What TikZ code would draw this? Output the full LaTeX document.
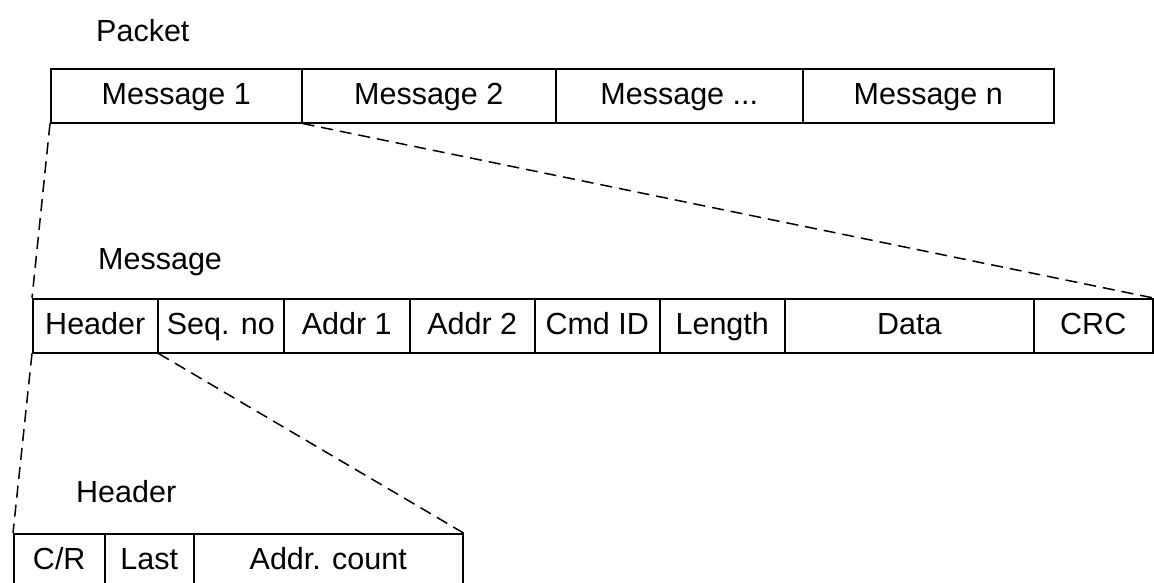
\documentclass[tikz,border=0pt]{standalone}
\usepackage{fontspec}
\setmainfont{Liberation Sans}
\begin{document}
\begin{tikzpicture}[x=1pt,y=-1pt,
  cell/.style={draw,line width=1.5pt,rectangle,anchor=north west,inner sep=0pt,
    minimum height=54pt,text height=21pt,text depth=3pt,font=\fontsize{30.5}{36}\selectfont},
  lbl/.style={anchor=west,inner sep=0pt,font=\fontsize{30.5}{36}\selectfont},
  zoomline/.style={line width=1.5pt,dash pattern=on 12pt off 7pt}]
\useasboundingbox (0,0) rectangle (1154,582);
% labels
\node[lbl] (tp) at (96,31) {Packet};
\node[lbl] (tm) at (98,262) {Message};
\node[lbl] (th) at (76,492) {Header};
% packet row
\node[cell,minimum width=251pt] (p1) at (50,68) {Message 1};
\node[cell,minimum width=254pt] (p2) at (301,68) {Message 2};
\node[cell,minimum width=247pt] (p3) at (555,68) {Message ...};
\node[cell,minimum width=251pt] (p4) at (802,68) {Message n};
% message row
\node[cell,minimum width=125pt] (m1) at (32,298) {Header};
\node[cell,minimum width=126pt] (m2) at (157,298) {Seq. no};
\node[cell,minimum width=126pt] (m3) at (283,298) {Addr 1};
\node[cell,minimum width=125pt] (m4) at (409,298) {Addr 2};
\node[cell,minimum width=125pt] (m5) at (534,298) {Cmd ID};
\node[cell,minimum width=125pt] (m6) at (659,298) {Length};
\node[cell,minimum width=249pt] (m7) at (784,298) {Data};
\node[cell,minimum width=119pt] (m8) at (1033,298) {CRC};
% header row
\node[cell,minimum width=91pt] (h1) at (13,533) {C/R};
\node[cell,minimum width=89pt] (h2) at (104,533) {Last};
\node[cell,minimum width=269pt] (h3) at (193,533) {Addr. count};
% zoom lines
\draw[zoomline] (p1.south west) -- (m1.north west);
\draw[zoomline] (p1.south east) -- (m8.north east);
\draw[zoomline] (m1.south west) -- (h1.north west);
\draw[zoomline] (m1.south east) -- (h3.north east);
\end{tikzpicture}
\end{document}
